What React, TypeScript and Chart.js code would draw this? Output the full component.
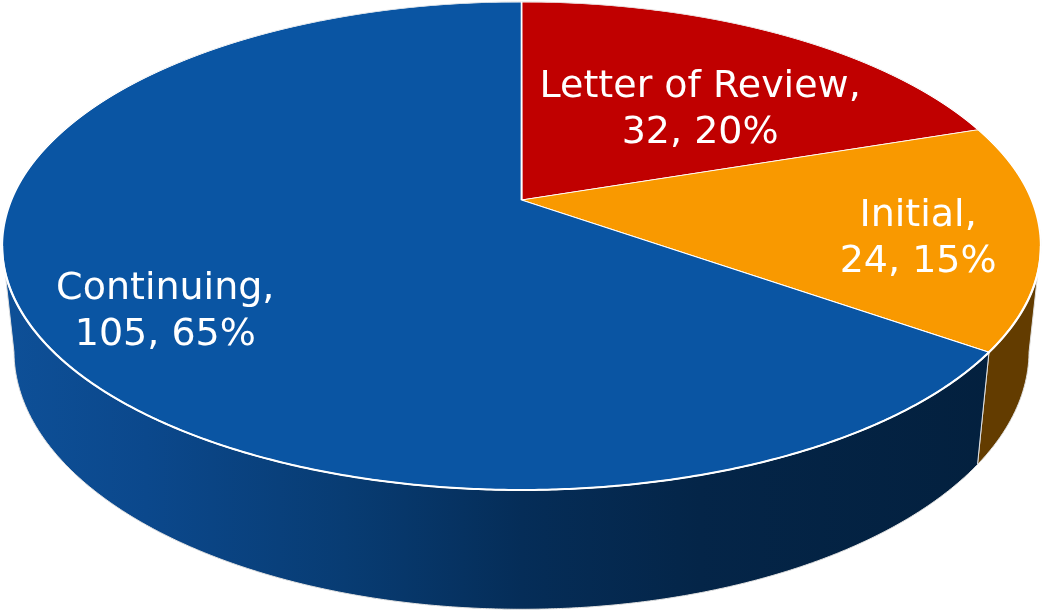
import React, { useEffect, useRef } from 'react';
import { Chart, registerables } from 'chart.js';

Chart.register(...registerables);

// ---- data ----
const categories = ['Letter of Review', 'Initial', 'Continuing'];
const counts = [32, 24, 105];

// ---- styles ----
const topColors = ['#C00000', '#F99900', '#0A55A3'];
const sideColors = ['#7A0000', '#633C00', 'gradient'];
const labelNudge = [
  [-5, 24],
  [47, 11],
  [-29, 30],
];
const LABEL_R = 0.68;

const W = 1045;
const H = 611;

// perspective camera (maps unit circle of the pie plane to the picture)
const CAM = { x0: 521.5, y0: 200, a: 510, b: 235.3, k: -0.1885, p: 0.0224, c: 106 };

function topPt(u: number, v: number): [number, number] {
  const w = 1 + CAM.k * v;
  return [CAM.x0 + (CAM.a * u) / w, CAM.y0 + (CAM.b * v) / w];
}
function botPt(u: number, v: number): [number, number] {
  const w = 1 + CAM.k * v + CAM.p;
  return [CAM.x0 + (CAM.a * u) / w, CAM.y0 + (CAM.b * v + CAM.c) / w];
}

const TANGENT = Math.asin(-CAM.k);

const pie3d = {
  id: 'pie3d',
  beforeDatasetsDraw(chart: any) {
    const ctx: CanvasRenderingContext2D = chart.ctx;
    const dpr = chart.currentDevicePixelRatio || 1;
    const meta = chart.getDatasetMeta(0);
    const els = meta.data;
    if (!els.length) return false;

    ctx.save();
    ctx.setTransform(dpr, 0, 0, dpr, 0, 0);

    // ---- side walls ----
    const lo = TANGENT;
    const hi = Math.PI - TANGENT;
    els.forEach((el: any, i: number) => {
      const props = el.getProps(['startAngle', 'endAngle'], true);
      for (const shift of [-2 * Math.PI, 0, 2 * Math.PI]) {
        const s = Math.max(props.startAngle + shift, lo);
        const e = Math.min(props.endAngle + shift, hi);
        if (e <= s) continue;
        const n = Math.max(4, Math.ceil((e - s) / 0.005));
        ctx.beginPath();
        for (let j = 0; j <= n; j++) {
          const t = s + ((e - s) * j) / n;
          const [x, y] = topPt(Math.cos(t), Math.sin(t));
          if (j === 0) ctx.moveTo(x, y);
          else ctx.lineTo(x, y);
        }
        for (let j = n; j >= 0; j--) {
          const t = s + ((e - s) * j) / n;
          const [x, y] = botPt(Math.cos(t), Math.sin(t));
          ctx.lineTo(x, y);
        }
        ctx.closePath();
        if (sideColors[i] === 'gradient') {
          const g = ctx.createLinearGradient(0, 0, W, 0);
          g.addColorStop(0, 'rgb(14,80,152)');
          g.addColorStop(0.14, 'rgb(11,72,140)');
          g.addColorStop(0.33, 'rgb(8,60,115)');
          g.addColorStop(0.5, 'rgb(5,45,88)');
          g.addColorStop(0.67, 'rgb(4,37,72)');
          g.addColorStop(0.96, 'rgb(3,32,62)');
          ctx.fillStyle = g;
        } else {
          ctx.fillStyle = sideColors[i];
        }
        ctx.fill();
        ctx.strokeStyle = 'rgba(225,225,225,1)';
        ctx.lineWidth = 1;
        ctx.stroke();
      }
    });

    // faint rim of the whole top face
    ctx.beginPath();
    for (let j = 0; j <= 720; j++) {
      const t = (j / 720) * Math.PI * 2;
      const [x, y] = topPt(Math.cos(t), Math.sin(t));
      if (j === 0) ctx.moveTo(x, y);
      else ctx.lineTo(x, y);
    }
    ctx.closePath();
    ctx.strokeStyle = '#d0d0d0';
    ctx.lineWidth = 1;
    ctx.stroke();
    ctx.restore();

    // ---- top face, drawn by Chart.js row by row through the perspective ----
    const el0 = els[0];
    const ax = el0.x;
    const ay = el0.y;
    const R = el0.outerRadius;
    const yTop = CAM.y0 - CAM.b / (1 - CAM.k);
    const yBot = CAM.y0 + CAM.b / (1 + CAM.k);
    const r0 = Math.max(0, Math.floor(yTop) - 3);
    const r1 = Math.min(H, Math.ceil(yBot) + 3);
    for (let yr = r0; yr < r1; yr++) {
      const ym = yr + 0.5;
      const dy = ym - CAM.y0;
      const vm = dy / (CAM.b - CAM.k * dy);
      const wm = 1 + CAM.k * vm;
      const sx = CAM.a / (wm * R);
      const sy = CAM.b / (wm * wm * R);
      const E = CAM.x0 - sx * ax;
      const F = ym - sy * ay - (CAM.b / (wm * wm)) * vm;
      ctx.save();
      ctx.setTransform(dpr, 0, 0, dpr, 0, 0);
      ctx.beginPath();
      ctx.rect(0, yr, W, 1);
      ctx.clip();
      ctx.setTransform(dpr * sx, 0, 0, dpr * sy, dpr * E, dpr * F);
      meta.controller.draw();
      ctx.restore();
    }

    // white front rim
    ctx.save();
    ctx.setTransform(dpr, 0, 0, dpr, 0, 0);
    ctx.beginPath();
    const n = 400;
    for (let j = 0; j <= n; j++) {
      const t = lo + ((hi - lo) * j) / n;
      const [x, y] = topPt(Math.cos(t), Math.sin(t));
      if (j === 0) ctx.moveTo(x, y);
      else ctx.lineTo(x, y);
    }
    ctx.strokeStyle = '#ffffff';
    ctx.lineWidth = 2;
    ctx.stroke();
    ctx.restore();
    return false;
  },
  afterDraw(chart: any) {
    const ctx: CanvasRenderingContext2D = chart.ctx;
    const dpr = chart.currentDevicePixelRatio || 1;
    const meta = chart.getDatasetMeta(0);
    const total = counts.reduce((s, v) => s + v, 0);
    ctx.save();
    ctx.setTransform(dpr, 0, 0, dpr, 0, 0);
    ctx.fillStyle = '#ffffff';
    ctx.font = '38px "DejaVu Sans"';
    ctx.textAlign = 'center';
    ctx.textBaseline = 'alphabetic';
    meta.data.forEach((el: any, i: number) => {
      const p = el.getProps(['startAngle', 'endAngle'], true);
      const mid = (p.startAngle + p.endAngle) / 2;
      const [x, y] = topPt(LABEL_R * Math.cos(mid), LABEL_R * Math.sin(mid));
      const nx = x + labelNudge[i][0];
      const ny = y + labelNudge[i][1];
      const pct = Math.round((counts[i] / total) * 100);
      ctx.fillText(`${categories[i]},`, nx, ny - 9);
      ctx.fillText(`${counts[i]}, ${pct}%`, nx, ny + 37);
    });
    ctx.restore();
  },
};

export default function App() {
  const ref = useRef<HTMLCanvasElement | null>(null);
  useEffect(() => {
    document.body.style.margin = '0';
    if (!ref.current) return;
    const chart = new Chart(ref.current, {
      type: 'pie',
      data: {
        labels: categories,
        datasets: [
          {
            data: counts,
            backgroundColor: topColors,
            borderColor: '#ffffff',
            borderWidth: 1.1,
          },
        ],
      },
      options: {
        responsive: false,
        animation: false,
        events: [],
        layout: { padding: 0 },
        plugins: {
          legend: { display: false },
          tooltip: { enabled: false },
        },
      },
      plugins: [pie3d],
    } as any);
    return () => chart.destroy();
  }, []);
  return (
    <div style={{ width: W, height: H }}>
      <canvas ref={ref} width={W} height={H} style={{ display: 'block', width: W, height: H }} />
    </div>
  );
}
